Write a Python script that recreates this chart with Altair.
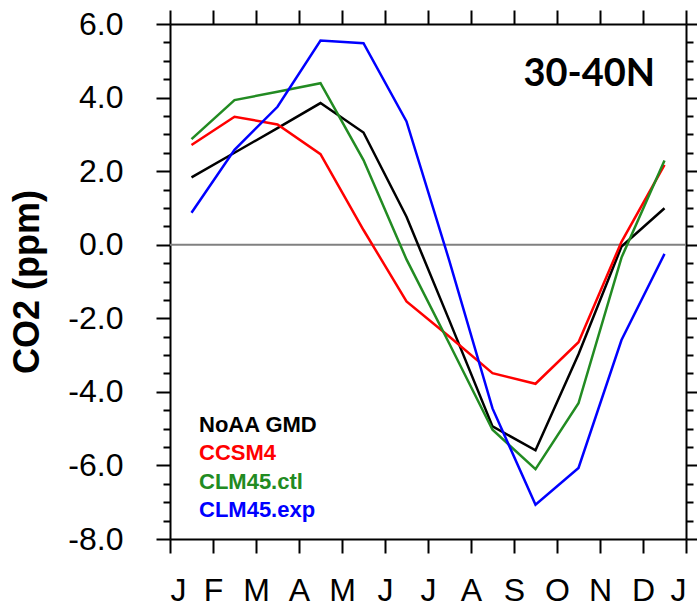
import altair as alt
import pandas as pd

# ---- data ----
months = ["J", "F", "M", "A", "M", "J", "J", "A", "S", "O", "N", "D"]
tick_labels = ["J", "F", "M", "A", "M", "J", "J", "A", "S", "O", "N", "D", "J"]
series_names = ["NoAA GMD", "CCSM4", "CLM45.ctl", "CLM45.exp"]
series_colors = ["#000000", "#FF0000", "#228B22", "#0000FF"]

noaa_gmd = [1.83, 2.50, 3.17, 3.85, 3.05, 0.76, -2.07, -4.94, -5.59, -2.98, -0.05, 0.99]
ccsm4 = [2.71, 3.48, 3.27, 2.46, 0.40, -1.54, -2.50, -3.49, -3.78, -2.65, 0.08, 2.17]
clm45_ctl = [2.87, 3.93, 4.16, 4.39, 2.30, -0.40, -2.70, -5.03, -6.10, -4.31, -0.35, 2.29]
clm45_exp = [0.87, 2.58, 3.75, 5.55, 5.48, 3.35, -0.45, -4.45, -7.07, -6.07, -2.59, -0.25]

region_label = "30-40N"
y_title = "CO2 (ppm)"

rows = []
for name, vals in zip(series_names, [noaa_gmd, ccsm4, clm45_ctl, clm45_exp]):
    for i, v in enumerate(vals):
        rows.append({"series": name, "month": i, "co2": v})
df = pd.DataFrame(rows)

legend_df = pd.DataFrame({"series": series_names, "idx": list(range(len(series_names)))})

label_expr_x = "[" + ",".join("'" + t + "'" for t in tick_labels) + "][datum.value]"
y_label_expr = "datum.value % 2 === 0 ? (datum.value === 0 ? '0.0' : datum.value + '.0') : ''"
y_vals = [v / 2 for v in range(-16, 13)]
x_vals = list(range(0, 13))

tick_cond = {"condition": {"test": "datum.value % 2 === 0", "value": 14}, "value": 7}

color = alt.Color("series:N", scale=alt.Scale(domain=series_names, range=series_colors), legend=None)
xscale = alt.Scale(domain=[0, 12], nice=False, zero=False)
yscale = alt.Scale(domain=[-8, 6], nice=False, zero=False)

base = alt.Chart(df).transform_calculate(mx="datum.month + 0.5")

lines = base.mark_line(strokeWidth=2.5).encode(
    x=alt.X("mx:Q", scale=xscale, title=None,
            axis=alt.Axis(values=x_vals, labelExpr=label_expr_x, tickSize=14, labelPadding=22,
                          labelFontSize=32, labelFont="Liberation Sans", labelColor="black",
                          orient="bottom", grid=False, domainWidth=2, tickWidth=2,
                          domainColor="black", tickColor="black")),
    y=alt.Y("co2:Q", scale=yscale, title=y_title,
            axis=alt.Axis(values=y_vals, labelExpr=y_label_expr, tickSize=tick_cond,
                          labelPadding=33, labelFontSize=32, labelFont="Liberation Sans",
                          labelColor="black", titleFontSize=36, titleFont="Liberation Sans",
                          titleFontWeight="bold", titleColor="black", titlePadding=21,
                          orient="left", grid=False, domainWidth=2, tickWidth=2,
                          domainColor="black", tickColor="black", labelOverlap=False)),
    color=color,
    order=alt.Order("month:Q"),
)

# invisible copy carrying top / right axes
frame = base.mark_line(strokeOpacity=0).encode(
    x=alt.X("mx:Q", scale=xscale, title=None,
            axis=alt.Axis(values=x_vals, labels=False, tickSize=14, orient="top", grid=False,
                          domainWidth=2, tickWidth=2, domainColor="black", tickColor="black")),
    y=alt.Y("co2:Q", scale=yscale, title=None,
            axis=alt.Axis(values=y_vals, labels=False, tickSize=tick_cond, orient="right",
                          grid=False, domainWidth=2, tickWidth=2, domainColor="black",
                          tickColor="black")),
    detail="series:N",
)

zero = alt.Chart(pd.DataFrame({"y": [0.0]})).mark_rule(color="#808080", strokeWidth=2).encode(
    y=alt.Y("y:Q", scale=yscale, axis=None)
)

region = alt.Chart(pd.DataFrame({"t": [region_label], "x": [11.28], "y": [4.32]})).mark_text(
    align="right", baseline="alphabetic", font="Lato", fontWeight="bold", fontSize=38, color="black"
).encode(x=alt.X("x:Q", scale=xscale, axis=None), y=alt.Y("y:Q", scale=yscale, axis=None), text="t:N")

legend = alt.Chart(legend_df).transform_calculate(ly="408 + datum.idx * 28.4").mark_text(
    align="left", baseline="alphabetic", font="Liberation Sans", fontWeight="bold", fontSize=22
).encode(
    x=alt.value(29),
    y=alt.Y("ly:Q", scale=None, axis=None),
    text="series:N",
    color=color,
)

chart = alt.layer(zero, lines, frame, region, legend).resolve_axis(
    x="independent", y="independent"
).properties(
    width=516, height=515,
    autosize=alt.AutoSizeParams(type="none"),
    padding={"left": 170, "top": 24, "right": 11, "bottom": 72},
).configure_view(stroke=None)

chart.save("out.html", embed_options={"renderer": "svg", "actions": False})
